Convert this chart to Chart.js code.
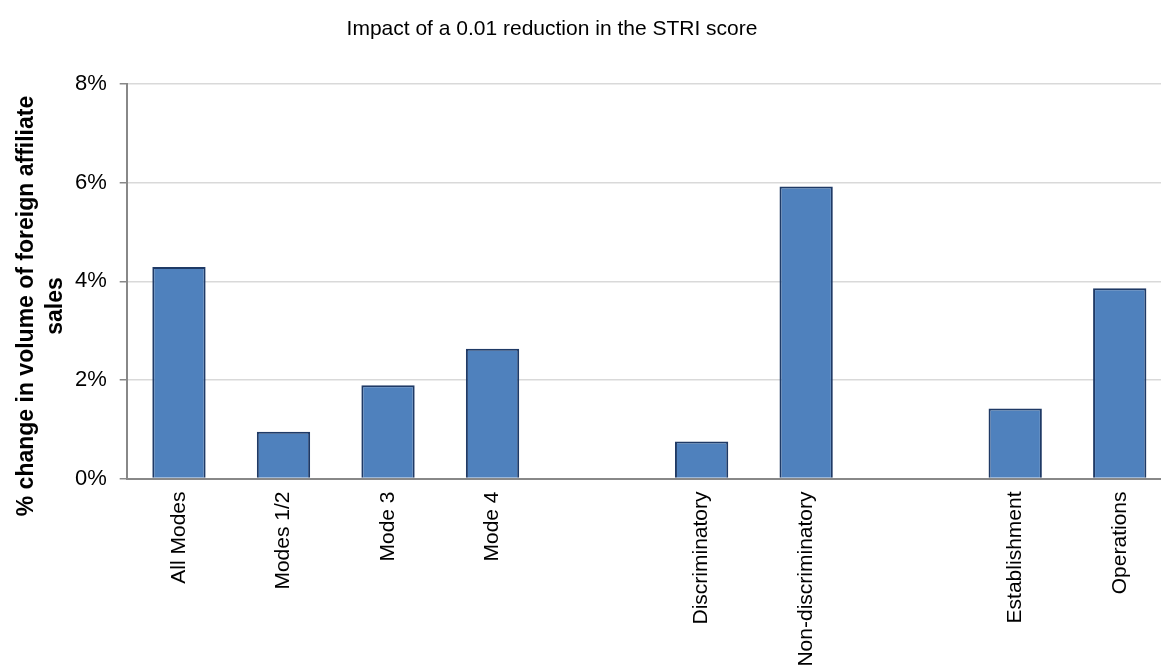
<!DOCTYPE html>
<html>
<head>
<meta charset="utf-8">
<script src="https://cdn.jsdelivr.net/npm/chart.js@4.4.1/dist/chart.umd.min.js"></script>
<style>
  html, body { margin: 0; padding: 0; background: #ffffff; overflow: hidden; }
  #wrap { width: 1161px; height: 666px; overflow: hidden; position: relative; }
  canvas { display: block; }
</style>
</head>
<body>
<div id="wrap"><canvas id="chart" width="1172" height="666"></canvas></div>
<script>
// Categories (empty strings separate the three groups)
const categories = [
  'All Modes', 'Modes 1/2', 'Mode 3', 'Mode 4', '',
  'Discriminatory', 'Non-discriminatory', '',
  'Establishment', 'Operations'
];
// % change in volume of foreign affiliate sales
const impactValues = [4.29, 0.95, 1.89, 2.63, null, 0.75, 5.92, null, 1.42, 3.86];
// Y-axis tick values (percent)
const yTicks = [0, 2, 4, 6, 8];

const chartTitle = 'Impact of a 0.01 reduction in the STRI score';
const yAxisTitle = ['% change in volume of foreign affiliate', 'sales'];

const FONT = '"Liberation Sans", Arial, Helvetica, sans-serif';

// Chart heading and the two-line vertical axis title
const textPlugin = {
  id: 'chartTexts',
  afterDraw(chart) {
    const ctx = chart.ctx;
    ctx.save();
    ctx.fillStyle = '#000000';
    ctx.textAlign = 'center';
    ctx.textBaseline = 'alphabetic';
    ctx.font = '21px ' + FONT;
    ctx.fillText(chartTitle, 552, 35);

    ctx.font = 'bold 23px ' + FONT;
    const midY = 306;
    const baselines = [33, 62];
    yAxisTitle.forEach((line, i) => {
      ctx.save();
      ctx.translate(baselines[i], midY);
      ctx.rotate(-Math.PI / 2);
      ctx.fillText(line, 0, 0);
      ctx.restore();
    });
    ctx.restore();
  }
};

new Chart(document.getElementById('chart'), {
  type: 'bar',
  data: {
    labels: categories,
    datasets: [{
      data: impactValues,
      backgroundColor: '#4F81BD',
      borderColor: '#1F3A66',
      borderWidth: 2,
      borderSkipped: 'bottom',
      barPercentage: 0.51,
      categoryPercentage: 1.0
    }]
  },
  options: {
    responsive: false,
    animation: false,
    layout: { padding: { top: 84, left: 0, right: 0, bottom: 0 } },
    plugins: {
      legend: { display: false },
      title: { display: false },
      tooltip: { enabled: false }
    },
    scales: {
      x: {
        grid: { display: false },
        border: { display: true, color: '#888888', width: 2 },
        ticks: {
          color: '#000000',
          font: { family: FONT, size: 21 },
          minRotation: 90,
          maxRotation: 90,
          autoSkip: false,
          padding: 5
        },
        afterFit(scale) { scale.height = 187.5; }
      },
      y: {
        min: 0,
        max: 8,
        afterBuildTicks(scale) { scale.ticks = yTicks.map(v => ({ value: v })); },
        grid: {
          color: '#D9D9D9',
          lineWidth: 1.5,
          tickLength: 7,
          tickColor: '#888888',
          tickWidth: 1.5
        },
        border: { display: true, color: '#888888', width: 2 },
        ticks: {
          color: '#000000',
          font: { family: FONT, size: 22 },
          padding: 13,
          callback: v => v + '%'
        },
        afterFit(scale) { scale.width = 126.7; }
      }
    }
  },
  plugins: [textPlugin]
});
</script>
</body>
</html>
